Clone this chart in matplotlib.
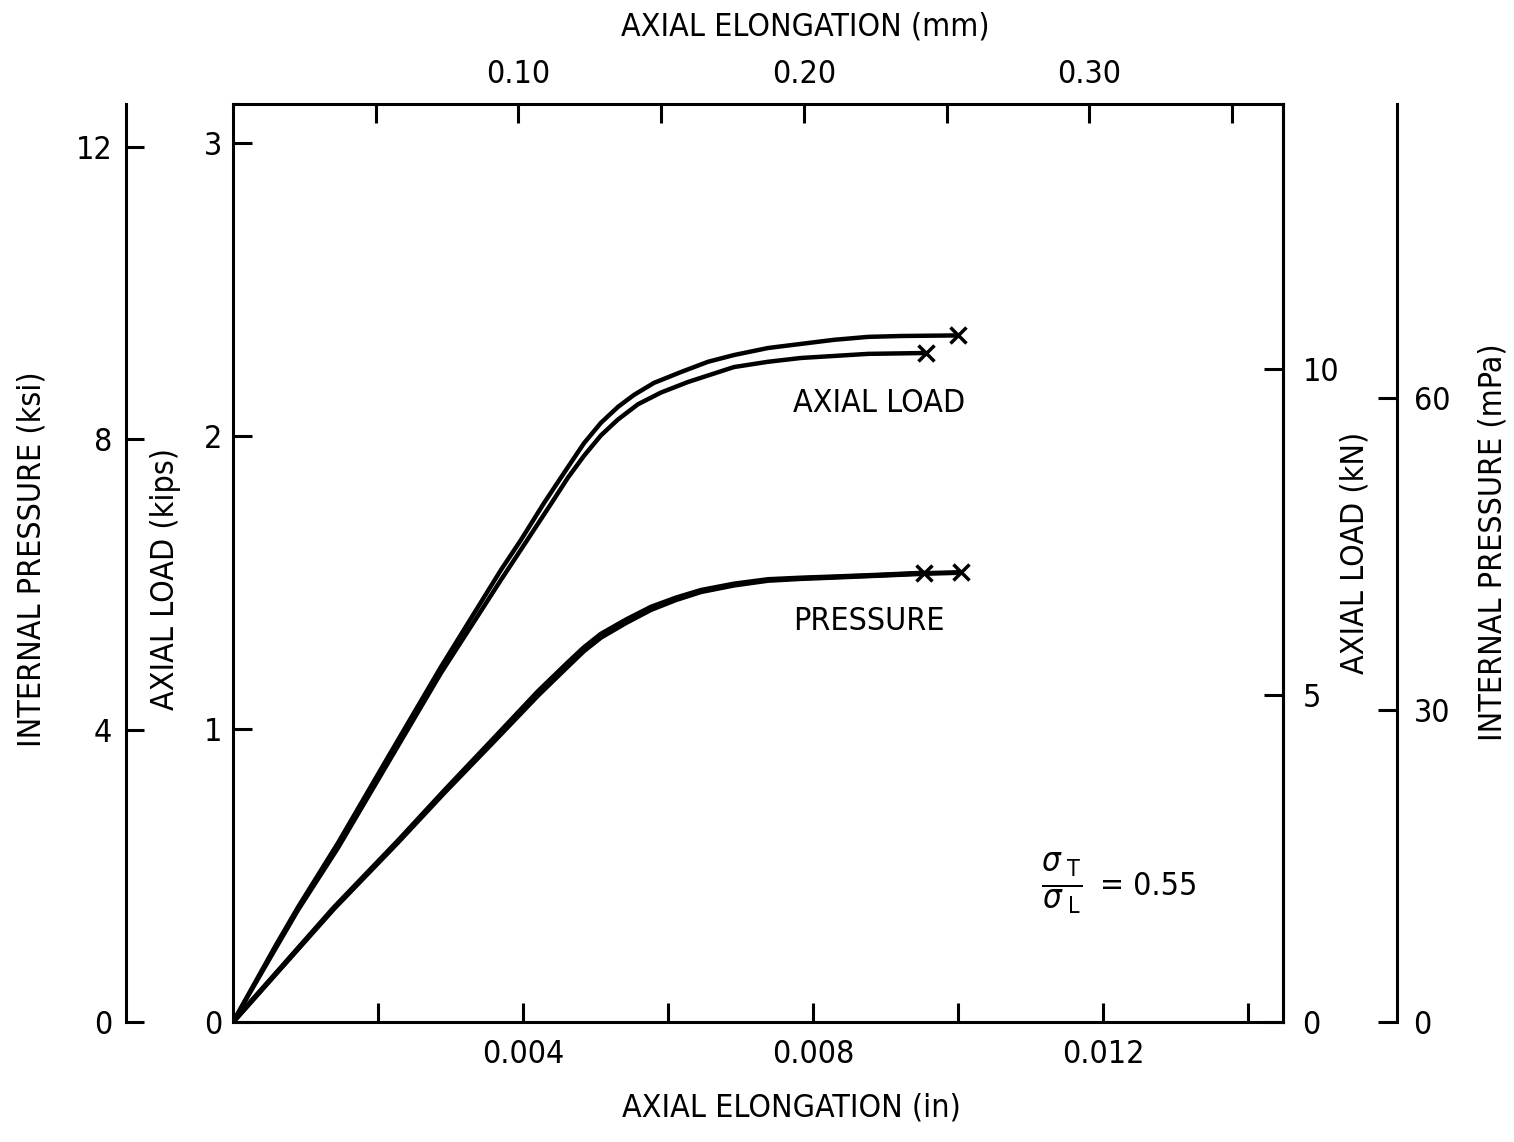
import matplotlib.pyplot as plt
import numpy as np
from matplotlib import font_manager
from matplotlib.ticker import FixedLocator, NullFormatter

# look for a narrow face, the original lettering is condensed
cond = [f for f in font_manager.fontManager.ttflist
        if f.stretch == 'condensed' or 'Condensed' in f.name or 'Narrow' in f.name]
if cond:
    plt.rcParams['font.family'] = [cond[0].name, 'DejaVu Sans']
    plt.rcParams['font.stretch'] = 'condensed'
else:
    plt.rcParams['font.family'] = ['DejaVu Sans']
FS = 23

# axial load curves, elongation (in) vs load (kips)
load_a_x = [0, 0.000593, 0.000897, 0.001448, 0.002138, 0.002869, 0.003697, 0.003972,
            0.004290, 0.004621, 0.004841, 0.005076, 0.005310, 0.005531, 0.005807,
            0.006179, 0.006552, 0.006910, 0.007379, 0.007834, 0.008290, 0.008759,
            0.009214, 0.010000]
load_a_y = [0, 0.263, 0.392, 0.611, 0.904, 1.212, 1.543, 1.645,
            1.771, 1.894, 1.975, 2.045, 2.099, 2.140, 2.181,
            2.218, 2.253, 2.276, 2.300, 2.314, 2.328, 2.338,
            2.341, 2.343]
load_b_x = [0, 0.000593, 0.000897, 0.001448, 0.002138, 0.002869, 0.003697, 0.004041,
            0.004386, 0.004621, 0.004841, 0.005076, 0.005310, 0.005586, 0.005903,
            0.006276, 0.006910, 0.007379, 0.007834, 0.008759, 0.009559]
load_b_y = [0, 0.253, 0.382, 0.594, 0.884, 1.191, 1.509, 1.638,
            1.768, 1.858, 1.932, 2.002, 2.056, 2.108, 2.148,
            2.184, 2.235, 2.253, 2.266, 2.280, 2.283]

# pressure curves, elongation (in) vs pressure (ksi)
pres_a_x = [0, 0.001393, 0.002276, 0.002910, 0.003600, 0.004207, 0.004621, 0.004841,
            0.005076, 0.005421, 0.005766, 0.006110, 0.006455, 0.006910, 0.007379,
            0.007834, 0.008290, 0.008938, 0.009531]
pres_a_y = [0, 1.570, 2.485, 3.167, 3.891, 4.532, 4.930, 5.135,
            5.320, 5.515, 5.690, 5.816, 5.920, 6.007, 6.068,
            6.089, 6.105, 6.130, 6.157]
pres_b_x = [0, 0.001393, 0.002276, 0.002910, 0.003600, 0.004207, 0.004621, 0.004841,
            0.005076, 0.005421, 0.005766, 0.006110, 0.006455, 0.006910, 0.007379,
            0.007834, 0.008290, 0.008938, 0.009531, 0.010041]
pres_b_y = [0, 1.555, 2.465, 3.140, 3.850, 4.480, 4.880, 5.090,
            5.275, 5.475, 5.655, 5.790, 5.900, 5.990, 6.055,
            6.080, 6.098, 6.125, 6.150, 6.165]

X_MAX = 0.014483
KIPS_MAX = 3.133
KSI_MAX = 12.59
KN_MAX = 14.05
MPA_MAX = 88.3

fig = plt.figure(figsize=(15.14, 11.42), dpi=100)
rect = [0.1539, 0.1051, 0.6935, 0.8039]
ax = fig.add_axes(rect)

for s in ax.spines.values():
    s.set_linewidth(2.2)

line_kw = dict(color='black', solid_joinstyle='round', solid_capstyle='round')
mark_kw = dict(color='black', ms=11, mew=2.5)

ax.plot(load_a_x, load_a_y, lw=3.2, **line_kw)
ax.plot(load_b_x, load_b_y, lw=3.2, **line_kw)
ax.plot(load_a_x[-1], load_a_y[-1], 'x', **mark_kw)
ax.plot(load_b_x[-1], load_b_y[-1], 'x', **mark_kw)
ax.set_xlim(0, X_MAX)
ax.set_ylim(0, KIPS_MAX)

ax.xaxis.set_major_locator(FixedLocator([0.004, 0.008, 0.012]))
ax.xaxis.set_minor_locator(FixedLocator([0.002, 0.006, 0.010, 0.014]))
ax.set_xticklabels(['0.004', '0.008', '0.012'])
ax.yaxis.set_major_locator(FixedLocator([0, 1, 2, 3]))
ax.set_yticklabels(['0', '1', '2', '3'])
ax.tick_params(axis='x', which='both', direction='in', length=14, width=2.2,
               labelsize=FS, pad=12)
ax.tick_params(axis='y', which='both', direction='in', length=14, width=2.2,
               labelsize=FS, pad=8)

# pressure in ksi, outer left axis
ax_ksi = fig.add_axes(rect, frameon=True)
ax_ksi.patch.set_visible(False)
for k in ['top', 'right', 'bottom']:
    ax_ksi.spines[k].set_visible(False)
ax_ksi.spines['left'].set_position(('outward', 77))
ax_ksi.spines['left'].set_linewidth(2.2)
ax_ksi.plot(pres_a_x, pres_a_y, lw=3.6, **line_kw)
ax_ksi.plot(pres_b_x, pres_b_y, lw=3.6, **line_kw)
ax_ksi.plot(pres_a_x[-1], pres_a_y[-1], 'x', **mark_kw)
ax_ksi.plot(pres_b_x[-1], pres_b_y[-1], 'x', **mark_kw)
ax_ksi.set_xlim(0, X_MAX)
ax_ksi.set_ylim(0, KSI_MAX)
ax_ksi.set_xticks([])
ax_ksi.yaxis.set_major_locator(FixedLocator([0, 4, 8, 12]))
ax_ksi.set_yticklabels(['0', '4', '8', '12'])
ax_ksi.tick_params(axis='y', direction='in', length=13, width=2.2, labelsize=FS, pad=10)

# kN on the right spine
ax_kn = ax.twinx()
for k in ['top', 'left', 'bottom']:
    ax_kn.spines[k].set_visible(False)
ax_kn.spines['right'].set_linewidth(2.2)
ax_kn.set_ylim(0, KN_MAX)
ax_kn.yaxis.set_major_locator(FixedLocator([0, 5, 10]))
ax_kn.set_yticklabels(['0', '5', '10'])
ax_kn.tick_params(axis='y', direction='in', length=14, width=2.2, labelsize=FS, pad=14)

# MPa, outer right axis
ax_mpa = ax.twinx()
for k in ['top', 'left', 'bottom']:
    ax_mpa.spines[k].set_visible(False)
ax_mpa.spines['right'].set_position(('outward', 82))
ax_mpa.spines['right'].set_linewidth(2.2)
ax_mpa.set_ylim(0, MPA_MAX)
ax_mpa.yaxis.set_major_locator(FixedLocator([0, 30, 60]))
ax_mpa.set_yticklabels(['0', '30', '60'])
ax_mpa.tick_params(axis='y', direction='in', length=14, width=2.2, labelsize=FS, pad=12)

# mm on top
ax_mm = ax.twiny()
ax_mm.set_xlim(0, X_MAX * 25.4)
ax_mm.xaxis.set_major_locator(FixedLocator([0.10, 0.20, 0.30]))
ax_mm.xaxis.set_minor_locator(FixedLocator([0.05, 0.15, 0.25, 0.35]))
ax_mm.set_xticklabels(['0.10', '0.20', '0.30'])
ax_mm.xaxis.set_minor_formatter(NullFormatter())
ax_mm.tick_params(axis='x', which='both', direction='in', length=14, width=2.2,
                  labelsize=FS, pad=10)
for s in ax_mm.spines.values():
    s.set_visible(False)

# axis titles
fig.text(0.532, 0.976, 'AXIAL ELONGATION (mm)', ha='center', va='center', fontsize=FS)
fig.text(0.523, 0.030, 'AXIAL ELONGATION (in)', ha='center', va='center', fontsize=FS)
fig.text(0.021, 0.510, 'INTERNAL PRESSURE (ksi)', ha='center', va='center',
         rotation=90, fontsize=FS)
fig.text(0.109, 0.493, 'AXIAL LOAD (kips)', ha='center', va='center',
         rotation=90, fontsize=FS)
fig.text(0.895, 0.516, 'AXIAL LOAD (kN)', ha='center', va='center',
         rotation=90, fontsize=FS)
fig.text(0.986, 0.525, 'INTERNAL PRESSURE (mPa)', ha='center', va='center',
         rotation=90, fontsize=FS)

# curve labels
ax.text(0.00772, 2.11, 'AXIAL LOAD', ha='left', va='center', fontsize=FS)
ax.text(0.00772, 1.367, 'PRESSURE', ha='left', va='center', fontsize=FS)

# stress ratio
ax.text(0.789, 0.150, r'$\frac{\sigma_{\ \mathrm{T}}}{\sigma_{\ \mathrm{L}}}$',
        transform=ax.transAxes, ha='center', va='center', fontsize=34)
ax.text(0.826, 0.148, '= 0.55', transform=ax.transAxes, ha='left', va='center',
        fontsize=FS)

fig.savefig('out.png', dpi=100)
